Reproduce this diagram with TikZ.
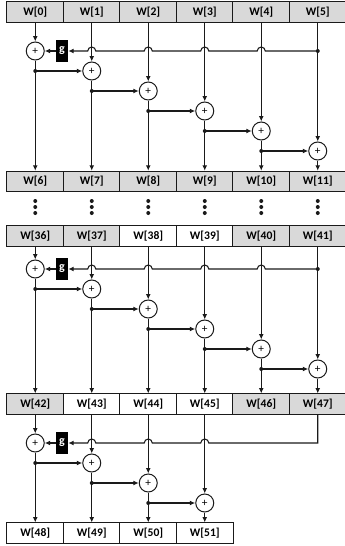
\documentclass[tikz,border=0pt]{standalone}
\usepackage{fontspec}
\setmainfont{Carlito}
\usetikzlibrary{arrows.meta,positioning,calc}
\definecolor{cellgray}{HTML}{D9D9D9}
\definecolor{ink}{HTML}{1A1A1A}

\begin{document}
\begin{tikzpicture}[
  x=0.75pt,y=0.75pt,
  font=\bfseries\fontsize{8.7}{10}\selectfont,
  word/.style={draw=ink,line width=0.75pt,minimum width=42.4pt,minimum height=15.4pt,
               inner sep=0pt,fill=white},
  adder/.style={circle,draw=ink,line width=0.75pt,fill=white,minimum size=13.5pt,
                inner sep=0pt,font=\normalfont\fontsize{8.5}{9}\selectfont},
  gbox/.style={fill=black,text=white,minimum width=9pt,minimum height=16.5pt,
               inner sep=0pt,font=\bfseries\fontsize{9}{10}\selectfont},
  wire/.style={draw=ink,line width=0.8pt},
  flow/.style={wire,-{Latex[length=4pt,width=3.6pt]}},
]
\useasboundingbox (0,0) rectangle (344,-546);

% Word rows.
\foreach \c in {0,...,5} {
  \pgfmathtruncatemacro\n{\c}
  \node[word,fill=cellgray] (w\n) at ({35.25+56.5*\c},-12.25) {W[\n]};
  \pgfmathtruncatemacro\n{\c+6}
  \node[word,fill=cellgray] (w\n) at ({35.25+56.5*\c},-181.5) {W[\n]};
}
\foreach \c/\f in {0/cellgray,1/cellgray,2/white,3/white,4/cellgray,5/cellgray} {
  \pgfmathtruncatemacro\n{\c+36}
  \node[word,fill=\f] (w\n) at ({35.25+56.5*\c},-236.25) {W[\n]};
}
\foreach \c/\f in {0/cellgray,1/white,2/white,3/white,4/cellgray,5/cellgray} {
  \pgfmathtruncatemacro\n{\c+42}
  \node[word,fill=\f] (w\n) at ({35.25+56.5*\c},-404.25) {W[\n]};
}
\foreach \c in {0,...,3} {
  \pgfmathtruncatemacro\n{\c+48}
  \node[word] (w\n) at ({35.25+56.5*\c},-533.25) {W[\n]};
}

% Vertical ellipsis between W[6..11] and W[36..41].
\foreach \c in {0,...,5}
  \foreach \d in {201,207,213}
    \fill[ink] ({35.25+56.5*\c},-\d) circle[radius=2];

% One expansion block: block / first input / first output / last adder / row of g.
\foreach \b/\n/\m/\K/\y in {1/0/6/5/51, 2/36/42/5/269, 3/42/48/3/443} {
  \pgfmathtruncatemacro\L{\K-1}
  \foreach \k in {0,...,\K}
    \node[adder] (p\b\k) at ({35.25+56.5*\k},{-\y-20*\k}) {+};
  \node[gbox] (g\b) at (62,-\y) {g};
  \coordinate (f\b) at ({35.25+56.5*5},-\y);

  % inputs down into the adders, sums down into the next row
  \foreach \k in {0,...,\K} {
    \pgfmathtruncatemacro\src{\n+\k}
    \pgfmathtruncatemacro\dst{\m+\k}
    \draw[flow] (w\src) -- (p\b\k);
    \draw[flow] (p\b\k) -- (w\dst);
  }
  % each sum also feeds the next adder
  \foreach \k [count=\j] in {0,...,\L} {
    \coordinate (d\b\k) at ({35.25+56.5*\k},{-\y-20*\j});
    \fill[ink] (d\b\k) circle[radius=2];
    \draw[flow] (d\b\k) -- (p\b\j);
  }
  \draw[flow] (g\b) -- (p\b0);
}

% Feedback through g, hopping over the vertical wires.
\fill[ink] (f1) circle[radius=2];
\draw[flow] (f1) \foreach \k in {4,3,2,1} {
    -- ({35.25+56.5*\k+4},-51) arc[start angle=0,end angle=180,radius=4] } -- (g1);
\fill[ink] (f2) circle[radius=2];
\draw[flow] (f2) \foreach \k in {4,3,2,1} {
    -- ({35.25+56.5*\k+4},-269) arc[start angle=0,end angle=180,radius=4] } -- (g2);
\draw[flow] (w47) -- (f3) \foreach \k in {3,2,1} {
    -- ({35.25+56.5*\k+4},-443) arc[start angle=0,end angle=180,radius=4] } -- (g3);

\end{tikzpicture}
\end{document}
